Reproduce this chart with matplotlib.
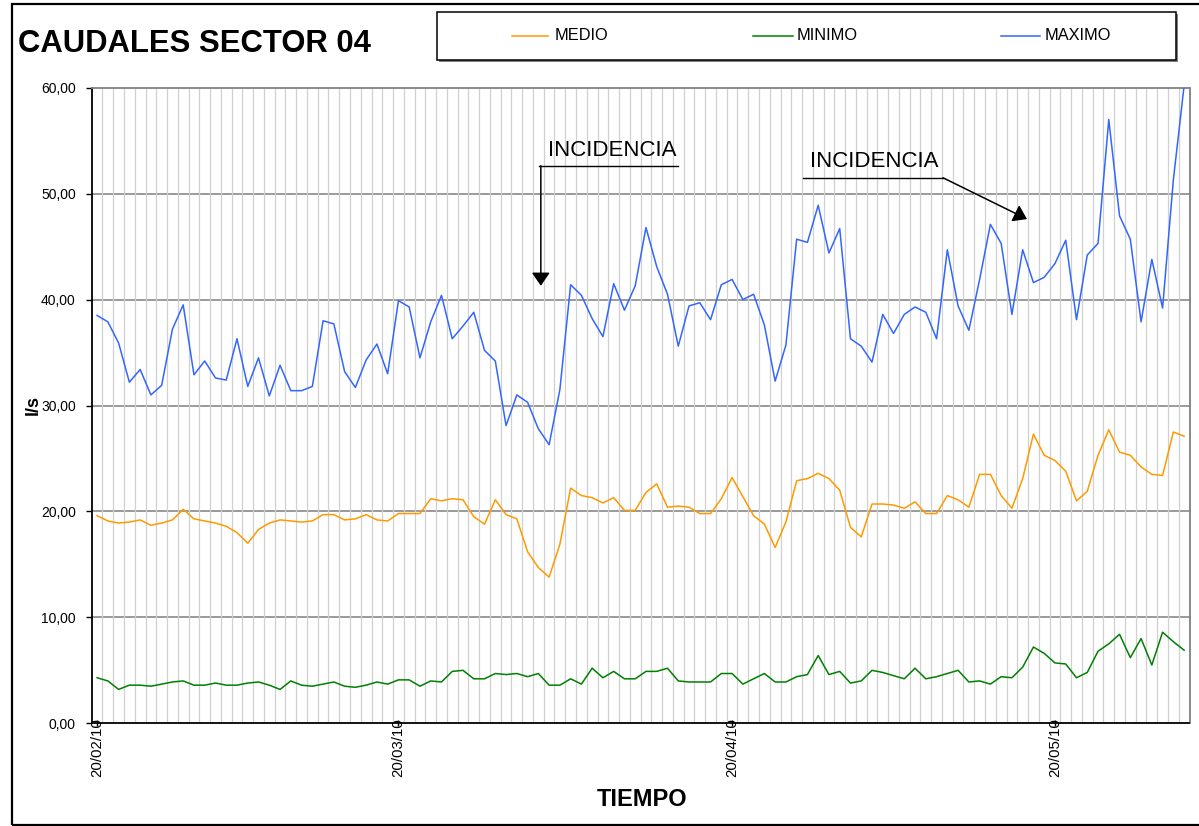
import numpy as np
import pandas as pd
import matplotlib
matplotlib.use("Agg")
import matplotlib.pyplot as plt
from matplotlib.patches import Rectangle
from matplotlib.lines import Line2D

plt.rcParams["font.family"] = ["Liberation Sans", "DejaVu Sans"]

# ----------------------------
# Data
# ----------------------------
START_DATE = "2010-02-20"
LABEL_DATES = ["2010-02-20", "2010-03-20", "2010-04-20", "2010-05-20"]

maximo = [38.5, 37.9, 35.9, 32.2, 33.4, 31.0, 31.9, 37.2, 39.5, 32.9,
          34.2, 32.6, 32.4, 36.3, 31.8, 34.5, 30.9, 33.8, 31.4, 31.4,
          31.8, 38.0, 37.7, 33.2, 31.7, 34.3, 35.8, 33.0, 39.9, 39.3,
          34.5, 37.9, 40.4, 36.3, 37.5, 38.8, 35.2, 34.2, 28.1, 31.0,
          30.3, 27.8, 26.3, 31.5, 41.4, 40.4, 38.2, 36.5, 41.5, 39.0,
          41.3, 46.8, 43.1, 40.5, 35.6, 39.4, 39.7, 38.1, 41.4, 41.9,
          40.0, 40.5, 37.6, 32.3, 35.7, 45.7, 45.4, 48.9, 44.4, 46.7,
          36.3, 35.6, 34.1, 38.6, 36.8, 38.6, 39.3, 38.8, 36.3, 44.7,
          39.4, 37.1, 41.9, 47.1, 45.3, 38.6, 44.7, 41.6, 42.1, 43.4,
          45.6, 38.1, 44.2, 45.3, 57.0, 47.9, 45.7, 37.9, 43.8, 39.2,
          51.3, 60.2]

medio = [19.6, 19.1, 18.9, 19.0, 19.2, 18.7, 18.9, 19.2, 20.2, 19.3,
         19.1, 18.9, 18.6, 18.0, 17.0, 18.3, 18.9, 19.2, 19.1, 19.0,
         19.1, 19.7, 19.7, 19.2, 19.3, 19.7, 19.2, 19.1, 19.8, 19.8,
         19.8, 21.2, 21.0, 21.2, 21.1, 19.5, 18.8, 21.1, 19.7, 19.3,
         16.2, 14.7, 13.8, 16.9, 22.2, 21.5, 21.3, 20.8, 21.3, 20.1,
         20.1, 21.8, 22.6, 20.4, 20.5, 20.4, 19.8, 19.8, 21.2, 23.2,
         21.4, 19.6, 18.8, 16.6, 19.0, 22.9, 23.1, 23.6, 23.1, 22.0,
         18.5, 17.6, 20.7, 20.7, 20.6, 20.3, 20.9, 19.8, 19.8, 21.5,
         21.1, 20.4, 23.5, 23.5, 21.5, 20.3, 23.1, 27.3, 25.3, 24.8,
         23.8, 21.0, 21.9, 25.3, 27.7, 25.6, 25.3, 24.2, 23.5, 23.4,
         27.5, 27.1]

minimo = [4.3, 4.0, 3.2, 3.6, 3.6, 3.5, 3.7, 3.9, 4.0, 3.6,
          3.6, 3.8, 3.6, 3.6, 3.8, 3.9, 3.6, 3.2, 4.0, 3.6,
          3.5, 3.7, 3.9, 3.5, 3.4, 3.6, 3.9, 3.7, 4.1, 4.1,
          3.5, 4.0, 3.9, 4.9, 5.0, 4.2, 4.2, 4.7, 4.6, 4.7,
          4.4, 4.7, 3.6, 3.6, 4.2, 3.7, 5.2, 4.3, 4.9, 4.2,
          4.2, 4.9, 4.9, 5.2, 4.0, 3.9, 3.9, 3.9, 4.7, 4.7,
          3.7, 4.2, 4.7, 3.9, 3.9, 4.4, 4.6, 6.4, 4.6, 4.9,
          3.8, 4.0, 5.0, 4.8, 4.5, 4.2, 5.2, 4.2, 4.4, 4.7,
          5.0, 3.9, 4.0, 3.7, 4.4, 4.3, 5.3, 7.2, 6.6, 5.7,
          5.6, 4.3, 4.8, 6.8, 7.5, 8.4, 6.2, 8.0, 5.5, 8.6,
          7.7, 6.9]

series_names = ["MEDIO", "MINIMO", "MAXIMO"]
series_colors = ["#FF9900", "#008000", "#3366FF"]

y_ticks = [0, 10, 20, 30, 40, 50, 60]

# ----------------------------
# Layout helpers (pixel -> figure fraction)
# ----------------------------
W, H = 1199, 826


def fx(px):
    return px / W


def fy(py):
    return 1 - py / H


dates = pd.date_range(START_DATE, periods=len(maximo), freq="D")
pos = np.arange(len(dates))

fig = plt.figure(figsize=(W / 100, H / 100), dpi=100)
ax = fig.add_axes([fx(91.7), fy(723.3), fx(1189.5) - fx(91.7), fy(87.7) - fy(723.3)])

# gridlines: one vertical line per day boundary, horizontal every 10 l/s
ax.set_xticks(np.arange(0.5, len(dates) - 1, 1.0), minor=True)
ax.grid(which="minor", axis="x", color="#d0d0d0", linewidth=0.9)
for v in y_ticks[1:-1]:
    ax.axhline(v, color="#9a9a9a", linewidth=1.4, zorder=1)

for name, vals, col in zip(series_names, [medio, minimo, maximo], series_colors):
    ax.plot(pos, vals, color=col, linewidth=1.1, zorder=3)

ax.set_xlim(-0.5, len(dates) - 0.5)
ax.set_ylim(0, 60)

# y axis
ax.set_yticks(y_ticks)
ax.set_yticklabels([f"{v:.2f}".replace(".", ",") for v in y_ticks], fontsize=10)
ax.tick_params(axis="y", which="major", length=4.5, width=1, direction="out", pad=7)

# x axis: labels on the 20th of each month
label_pos = [int((pd.Timestamp(d) - dates[0]).days) for d in LABEL_DATES]
ax.set_xticks(label_pos)
ax.set_xticklabels([pd.Timestamp(d).strftime("%d/%m/%y") for d in LABEL_DATES],
                   rotation=90, fontsize=10.8)
ax.tick_params(axis="x", which="major", length=5, width=1, direction="inout", pad=-6)
ax.tick_params(axis="x", which="minor", length=0)

for s in ["left", "bottom"]:
    ax.spines[s].set_color("black")
    ax.spines[s].set_linewidth(1.3)
for s in ["top", "right"]:
    ax.spines[s].set_color("#808080")
    ax.spines[s].set_linewidth(1.3)

# ----------------------------
# Annotations
# ----------------------------
inc1_text = (41.85, 54.1)
inc1_line = ([41.04, 53.96], [52.63, 52.63])
inc1_arrow = ((41.23, 52.63), (41.23, 41.3))

inc2_text = (66.2, 53.0)
inc2_line = ([65.58, 78.59], [51.5, 51.5])
inc2_arrow = ((78.59, 51.5), (86.4, 47.6))

arrow_props = dict(arrowstyle="-|>,head_length=0.8,head_width=0.55", mutation_scale=10,
                   color="black", lw=1.1, shrinkA=0, shrinkB=0)

for txt, line, arr in [(inc1_text, inc1_line, inc1_arrow), (inc2_text, inc2_line, inc2_arrow)]:
    ax.text(txt[0], txt[1], "INCIDENCIA", fontsize=16, va="center", ha="left", zorder=5)
    ax.plot(line[0], line[1], color="black", linewidth=1.0, zorder=5, clip_on=False)
    ax.annotate("", xy=arr[1], xytext=arr[0], arrowprops=arrow_props, zorder=5)

# ----------------------------
# Titles, frame and legend
# ----------------------------
fig.text(fx(18), fy(44), "CAUDALES SECTOR 04", fontsize=22.3, fontweight="bold",
         va="center", ha="left")
fig.text(fx(33), fy(405), "l/s", fontsize=13, fontweight="bold", rotation=90,
         va="center", ha="center")
fig.text(fx(642), fy(800), "TIEMPO", fontsize=17, fontweight="bold", va="center", ha="center")

# outer chart frame
fig.add_artist(Rectangle((fx(11.5), fy(824.5)), fx(1300), fy(4) - fy(824.5),
                         transform=fig.transFigure, fill=False, edgecolor="black", linewidth=1.6))

# legend box with a light shadow
fig.add_artist(Rectangle((fx(439), fy(62)), fx(1178) - fx(439), fy(14) - fy(62),
                         transform=fig.transFigure, facecolor="#808080", edgecolor="none"))
fig.add_artist(Rectangle((fx(437), fy(60)), fx(1176) - fx(437), fy(12) - fy(60),
                         transform=fig.transFigure, facecolor="white", edgecolor="black",
                         linewidth=1.1))
legend_x = [(512, 548, 555), (753, 793, 797), (1001, 1040, 1045)]
for name, col, (x0, x1, xt) in zip(series_names, series_colors, legend_x):
    fig.add_artist(Line2D([fx(x0), fx(x1)], [fy(36), fy(36)], transform=fig.transFigure,
                          color=col, linewidth=1.1))
    fig.text(fx(xt), fy(36), name, fontsize=11.8, va="center", ha="left")

fig.savefig("out.png", dpi=100)
